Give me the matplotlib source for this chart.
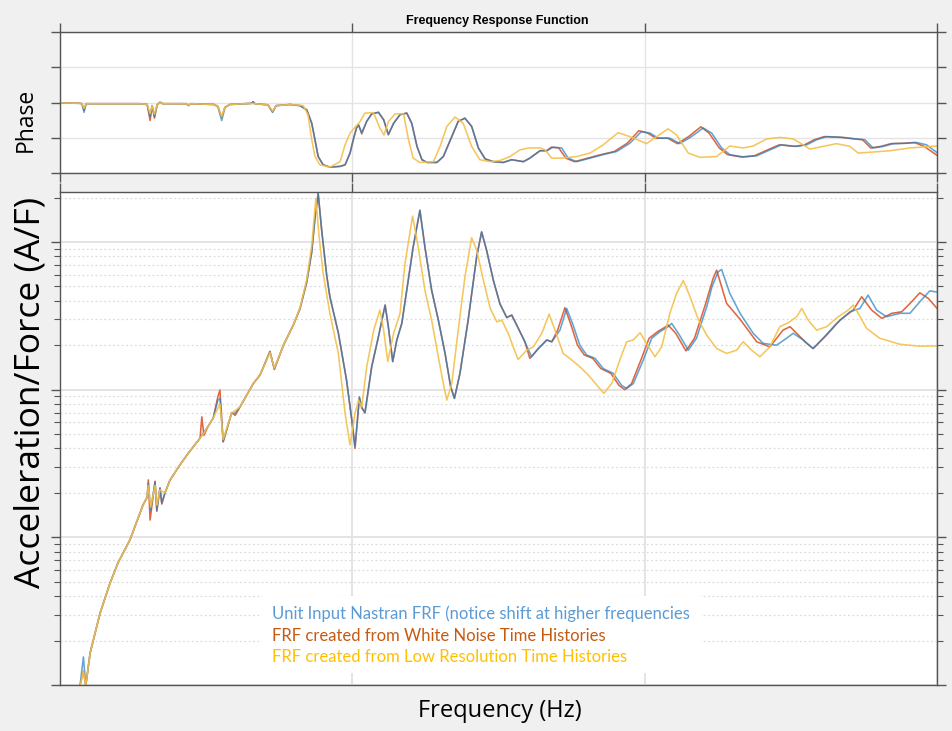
import matplotlib.pyplot as plt
from matplotlib.patches import Rectangle
from matplotlib.ticker import LogLocator, NullFormatter

plt.rcParams['font.family'] = ['Open Sans', 'DejaVu Sans']

# --- magnitude (A/F) ---
freq_mag_nastran = [68, 80, 88, 103, 114, 137, 171, 198, 239, 284, 298, 302, 310, 325, 331,
                    342, 348, 359, 376, 410, 439, 479, 490, 507, 524, 540, 547, 558, 587, 599,
                    616, 661, 684, 718, 733, 764, 798, 821, 844, 861, 872, 883, 895, 912,
                    923, 952, 980, 998, 1009, 1024, 1032, 1043, 1066, 1089, 1112, 1123, 1138, 1152, 1169,
                    1186, 1208, 1231, 1248, 1271, 1294, 1317, 1336, 1349, 1368, 1396, 1425, 1442, 1459, 1482,
                    1505, 1528, 1545, 1562, 1590, 1613, 1636, 1665, 1682, 1710, 1733, 1755, 1778, 1801, 1830,
                    1858, 1892, 1921, 1938, 1961, 1995, 2024, 2052, 2080, 2092, 2115, 2149, 2177, 2212, 2230,
                    2251, 2263, 2291, 2326, 2371, 2405, 2451, 2485, 2508, 2542, 2576, 2610, 2656, 2702, 2736,
                    2764, 2793, 2827, 2873, 2907, 2941, 2975, 3000]
mag_nastran = [0.0098, 0.0155, 0.0099, 0.0165, 0.0202, 0.0307, 0.049, 0.067, 0.096, 0.166, 0.187, 0.233, 0.153, 0.237, 0.153,
               0.216, 0.171, 0.20, 0.244, 0.309, 0.372, 0.47, 0.508, 0.567, 0.642, 0.85, 0.873, 0.444, 0.694, 0.694,
               0.766, 1.10, 1.256, 1.80, 1.39, 2.0, 2.74, 3.55, 5.38, 8.58, 14.5, 21.3, 12.0, 5.97,
               4.26, 2.42, 1.16, 0.622, 0.411, 0.895, 0.766, 0.694, 1.43, 2.28, 3.74, 2.67, 1.55, 2.17, 2.81,
               4.72, 9.28, 16.4, 9.28, 4.72, 2.96, 1.76, 1.05, 0.873, 1.29, 2.96, 7.94, 11.7, 8.81, 5.52,
               3.80, 3.08, 3.2, 2.74, 2.11, 1.67, 1.90, 2.17, 2.11, 2.53, 3.55, 2.74, 2.0, 1.72, 1.63,
               1.39, 1.29, 1.07, 1.02, 1.10, 1.59, 2.23, 2.47, 2.67, 2.81, 2.41, 1.85, 2.23, 3.64, 4.98,
               6.28, 6.52, 4.49, 3.29, 2.41, 2.06, 2.0, 2.23, 2.41, 2.17, 1.90, 2.23, 2.81, 3.37, 3.55,
               4.37, 3.46, 3.12, 3.29, 3.29, 3.94, 4.67, 4.58]

freq_mag_noise = [68, 80, 88, 103, 114, 137, 171, 198, 239, 284, 298, 302, 308, 325, 331,
                  342, 348, 359, 376, 410, 439, 479, 485, 492, 507, 524, 540, 547, 558, 587,
                  599, 616, 661, 684, 718, 733, 764, 798, 821, 844, 861, 872, 883, 895,
                  912, 923, 952, 980, 998, 1009, 1024, 1032, 1043, 1066, 1089, 1112, 1123, 1138, 1152,
                  1169, 1186, 1208, 1231, 1248, 1271, 1294, 1317, 1336, 1349, 1368, 1396, 1425, 1442, 1459,
                  1482, 1505, 1528, 1545, 1562, 1590, 1607, 1636, 1665, 1682, 1702, 1727, 1748, 1770, 1793,
                  1822, 1850, 1884, 1912, 1932, 1955, 1987, 2015, 2044, 2072, 2080, 2106, 2141, 2170, 2205,
                  2234, 2246, 2280, 2326, 2383, 2428, 2473, 2497, 2554, 2576, 2622, 2668, 2713, 2742, 2776,
                  2811, 2845, 2879, 2913, 2941, 2970, 3000]
mag_noise = [0.0098, 0.0125, 0.0099, 0.0165, 0.0202, 0.0307, 0.049, 0.067, 0.096, 0.166, 0.187, 0.245, 0.131, 0.24, 0.15,
             0.216, 0.168, 0.20, 0.244, 0.309, 0.372, 0.47, 0.655, 0.49, 0.567, 0.642, 0.90, 0.994, 0.444, 0.70,
             0.67, 0.766, 1.10, 1.256, 1.82, 1.37, 2.0, 2.74, 3.55, 5.38, 8.58, 14.5, 21.3, 12.0,
             5.97, 4.26, 2.42, 1.16, 0.622, 0.40, 0.88, 0.75, 0.70, 1.43, 2.28, 3.74, 2.67, 1.55, 2.17,
             2.81, 4.72, 9.28, 16.4, 9.28, 4.72, 2.96, 1.76, 1.05, 0.873, 1.29, 2.96, 7.94, 11.7, 8.81,
             5.52, 3.80, 3.08, 3.2, 2.74, 2.11, 1.63, 1.90, 2.17, 2.11, 2.53, 3.59, 2.74, 2.0, 1.72,
             1.63, 1.39, 1.29, 1.07, 1.0, 1.10, 1.59, 2.23, 2.47, 2.67, 2.74, 2.41, 1.83, 2.23, 3.64,
             5.67, 6.45, 3.84, 3.0, 2.11, 1.95, 2.53, 2.67, 2.06, 1.90, 2.34, 2.96, 3.46, 4.26, 3.46,
             3.04, 3.29, 3.37, 3.94, 4.53, 4.15, 3.55]

freq_mag_lowres = [68, 80, 88, 103, 114, 137, 171, 198, 239, 284, 298, 302, 310, 325, 331,
                   342, 359, 376, 410, 439, 479, 490, 507, 524, 547, 558, 587, 616, 661, 684,
                   718, 733, 764, 798, 821, 844, 861, 875, 886, 900, 923, 952, 975, 992, 1009, 1021,
                   1032, 1049, 1073, 1094, 1107, 1121, 1141, 1163, 1180, 1206, 1225, 1248, 1271, 1294, 1311,
                   1323, 1340, 1362, 1385, 1408, 1425, 1448, 1471, 1494, 1511, 1533, 1550, 1567, 1596, 1619,
                   1648, 1673, 1693, 1721, 1750, 1778, 1807, 1837, 1860, 1887, 1915, 1938, 1961, 1984, 2006,
                   2035, 2058, 2086, 2109, 2132, 2155, 2184, 2212, 2246, 2280, 2314, 2337, 2366, 2394, 2428,
                   2462, 2491, 2520, 2537, 2559, 2588, 2622, 2662, 2696, 2713, 2730, 2759, 2804, 2873, 2941,
                   3000]
mag_lowres = [0.0098, 0.0125, 0.0099, 0.0165, 0.0202, 0.0307, 0.049, 0.067, 0.096, 0.166, 0.187, 0.225, 0.16, 0.225, 0.165,
              0.21, 0.20, 0.244, 0.309, 0.372, 0.47, 0.50, 0.567, 0.642, 0.80, 0.46, 0.694, 0.766, 1.10, 1.256,
              1.78, 1.40, 2.0, 2.74, 3.60, 5.6, 9.53, 19.7, 11.0, 6.13, 3.29, 1.76, 0.691, 0.422, 0.691, 0.85,
              0.766, 1.43, 2.53, 3.46, 2.53, 1.55, 2.41, 3.29, 7.17, 15.0, 9.28, 4.72, 2.96, 1.67, 1.10,
              0.85, 1.10, 2.53, 5.81, 10.7, 8.81, 5.52, 3.57, 2.88, 2.96, 2.41, 1.95, 1.60, 1.85, 1.95,
              2.41, 3.25, 2.53, 1.76, 1.59, 1.43, 1.256, 1.07, 0.944, 1.10, 1.59, 2.11, 2.17, 2.43, 2.06,
              1.67, 1.95, 3.29, 4.49, 5.48, 4.26, 2.96, 2.34, 1.90, 1.76, 1.85, 2.11, 1.85, 1.67, 1.95,
              2.67, 2.84, 3.12, 3.55, 2.96, 2.53, 2.67, 3.12, 3.46, 3.74, 3.29, 2.60, 2.23, 2.03, 1.97,
              1.98]

# --- phase (deg) ---
freq_ph_nastran = [5, 68, 75, 82, 89, 274, 298, 308, 315, 323, 332, 342, 352, 431, 439,
                   448, 527, 540, 553, 564, 581, 657, 660, 667, 711, 727, 739, 787, 821, 844,
                   861, 872, 883, 900, 923, 958, 975, 992, 1003, 1014, 1021, 1032, 1049, 1066, 1089,
                   1107, 1123, 1141, 1163, 1186, 1203, 1221, 1238, 1255, 1289, 1311, 1340, 1362, 1385, 1408,
                   1431, 1454, 1482, 1516, 1545, 1585, 1607, 1642, 1665, 1687, 1716, 1738, 1767, 1813, 1858,
                   1904, 1949, 1989, 2018, 2046, 2086, 2120, 2160, 2200, 2229, 2263, 2291, 2337, 2383, 2428,
                   2468, 2520, 2554, 2588, 2622, 2679, 2725, 2753, 2781, 2816, 2850, 2896, 2930, 2964, 3000]
ph_nastran = [-1, -2, -3, -25, -3, -3, -5, -36, -8, -36, -6, 0, -3, -3, -8,
              -3, -5, -11, -46, -13, -5, -2, 2, -3, -6, -25, -8, -5, -8, -19,
              -53, -95, -138, -159, -165, -163, -159, -129, -95, -65, -57, -77, -48, -29, -25,
              -44, -82, -53, -31, -27, -53, -112, -146, -153, -153, -138, -87, -48, -40, -61,
              -116, -144, -151, -153, -146, -151, -142, -123, -123, -114, -116, -142, -151, -142, -133,
              -125, -104, -74, -78, -91, -91, -105, -87, -65, -78, -116, -133, -139, -136, -121,
              -108, -112, -108, -95, -87, -89, -93, -95, -116, -112, -105, -104, -102, -108, -128]

freq_ph_noise = [5, 68, 75, 82, 89, 274, 298, 308, 315, 323, 332, 342, 352, 431, 439,
                 448, 527, 540, 553, 564, 581, 657, 660, 667, 711, 727, 739, 787, 821, 844,
                 861, 872, 883, 900, 923, 958, 975, 992, 1003, 1014, 1021, 1032, 1049, 1066, 1089,
                 1107, 1123, 1141, 1163, 1186, 1203, 1221, 1238, 1255, 1289, 1311, 1340, 1362, 1385, 1408,
                 1431, 1454, 1482, 1516, 1545, 1585, 1607, 1642, 1665, 1680, 1706, 1730, 1760, 1805, 1850,
                 1896, 1940, 1980, 2010, 2038, 2078, 2112, 2150, 2192, 2220, 2255, 2283, 2330, 2375, 2420,
                 2460, 2512, 2546, 2580, 2614, 2671, 2717, 2745, 2773, 2808, 2842, 2888, 2922, 2956, 3000]
ph_noise = [-1, -2, -3, -20, -3, -3, -5, -46, -8, -40, -6, 1, -3, -3, -7,
            -3, -5, -10, -38, -12, -5, -2, 2, -3, -6, -24, -8, -5, -8, -19,
            -53, -95, -138, -159, -165, -163, -159, -129, -95, -65, -57, -80, -48, -29, -25,
            -44, -82, -53, -31, -27, -53, -112, -146, -153, -153, -138, -87, -48, -40, -61,
            -116, -144, -151, -153, -146, -151, -142, -123, -123, -114, -116, -142, -151, -142, -133,
            -125, -104, -72, -78, -91, -91, -105, -87, -62, -78, -116, -133, -139, -136, -121,
            -108, -112, -108, -95, -87, -89, -93, -95, -116, -112, -105, -104, -102, -112, -135]

freq_ph_lowres = [5, 68, 75, 82, 89, 274, 298, 308, 315, 323, 332, 342, 352, 431, 439,
                  448, 527, 540, 553, 564, 581, 657, 667, 711, 727, 739, 787, 821, 832, 848,
                  861, 872, 889, 923, 958, 975, 992, 1009, 1026, 1043, 1072, 1094, 1108, 1123, 1146,
                  1175, 1192, 1208, 1231, 1277, 1300, 1323, 1351, 1379, 1408, 1436, 1471, 1505, 1539, 1573,
                  1602, 1642, 1659, 1682, 1716, 1767, 1813, 1858, 1909, 1949, 2006, 2041, 2080, 2109, 2149,
                  2189, 2246, 2291, 2337, 2371, 2417, 2462, 2508, 2542, 2565, 2610, 2656, 2702, 2730, 2770,
                  2839, 2907, 3000]
ph_lowres = [-1, -2, -3, -15, -3, -3, -5, -28, -8, -30, -6, 0, -3, -3, -7,
             -3, -5, -10, -36, -12, -5, -2, -3, -6, -22, -8, -5, -7, -8, -31,
             -95, -138, -159, -165, -151, -108, -78, -63, -49, -27, -26, -65, -83, -49, -29,
             -29, -95, -142, -153, -151, -112, -61, -37, -53, -112, -146, -151, -148, -138, -121,
             -116, -116, -121, -142, -142, -138, -129, -108, -77, -87, -105, -87, -67, -83, -129,
             -140, -138, -111, -116, -111, -93, -89, -93, -108, -119, -112, -105, -112, -129, -127,
             -123, -116, -111]

labels = ['Unit Input Nastran FRF (notice shift at higher frequencies',
          'FRF created from White Noise Time Histories',
          'FRF created from Low Resolution Time Histories']
text_colors = ['#5b9bd5', '#c55a11', '#ffc000']
c_nastran = '#1f7fc4'
c_noise = '#e0673f'
c_lowres = '#f4c04a'

frame = '#555555'
grid_c = '#e4e4e4'

fig = plt.figure(figsize=(9.53, 7.31), dpi=100, facecolor='#f0f0f0')
ax_ph = fig.add_axes([0.063, 0.7633, 0.9203, 0.1929])
ax_mag = fig.add_axes([0.063, 0.0629, 0.9203, 0.6744])

line_kw = dict(lw=1.15, solid_joinstyle='round')

# phase panel
ax_ph.plot(freq_ph_noise, ph_noise, color=c_noise, **line_kw)
ax_ph.plot(freq_ph_nastran, ph_nastran, color=c_nastran, alpha=0.7, **line_kw)
ax_ph.plot(freq_ph_lowres, ph_lowres, color=c_lowres, alpha=0.9, **line_kw)
ax_ph.set_xlim(0, 3000)
ax_ph.set_ylim(-180, 180)
ax_ph.set_xticks([0, 1000, 2000, 3000])
ax_ph.set_yticks([-180, -90, 0, 90, 180])
ax_ph.tick_params(direction='out', length=6.8, width=1, color=frame,
                  top=True, right=True, labelleft=False, labelbottom=False)
ax_ph.set_axisbelow(True)
ax_ph.grid(True, color=grid_c, lw=1)

# magnitude panel
ax_mag.plot(freq_mag_noise, mag_noise, color=c_noise, **line_kw)
ax_mag.plot(freq_mag_nastran, mag_nastran, color=c_nastran, alpha=0.7, **line_kw)
ax_mag.plot(freq_mag_lowres, mag_lowres, color=c_lowres, alpha=0.9, **line_kw)
ax_mag.set_yscale('log')
ax_mag.set_xlim(0, 3000)
ax_mag.set_ylim(0.01, 21.8)
ax_mag.set_xticks([0, 1000, 2000, 3000])
ax_mag.yaxis.set_major_locator(LogLocator(base=10, numticks=10))
ax_mag.yaxis.set_minor_locator(LogLocator(base=10, subs=range(2, 10), numticks=20))
ax_mag.yaxis.set_minor_formatter(NullFormatter())
ax_mag.tick_params(axis='x', direction='out', length=6.8, width=1, color=frame,
                   top=True, bottom=False, labelbottom=False)
ax_mag.tick_params(axis='y', which='major', direction='out', length=6.5, width=1,
                   color=frame, right=True, labelleft=False)
ax_mag.tick_params(axis='y', which='minor', direction='out', length=4.3, width=0.8,
                   color=frame, right=True)
ax_mag.set_axisbelow(True)
ax_mag.grid(True, which='major', color=grid_c, lw=1.4)
ax_mag.grid(True, which='minor', axis='y', color='#dcdcdc', lw=0.9, ls=(0, (1.5, 2)))

for ax in (ax_ph, ax_mag):
    for sp in ax.spines.values():
        sp.set_color(frame)
        sp.set_linewidth(1.0)

# text block of series names
ax_mag.add_patch(Rectangle((0.2303, 0.0243), 0.50, 0.1562, transform=ax_mag.transAxes,
                           facecolor='white', edgecolor='none', zorder=1.5))
for i, (lab, col) in enumerate(zip(labels, text_colors)):
    ax_mag.text(0.2417, 0.144 - i * 0.0436, lab, transform=ax_mag.transAxes, color=col,
                fontsize=12, family=['Lato', 'DejaVu Sans'], ha='left', va='center', zorder=3)

fig.text(0.5215, 0.9713, 'Frequency Response Function', ha='center', va='center',
         fontsize=9, fontweight='bold', family=['Liberation Sans', 'DejaVu Sans'])
fig.text(0.0273, 0.8358, 'Phase', rotation=90, ha='center', va='center', fontsize=16.5)
fig.text(0.0325, 0.4637, 'Acceleration/Force (A/F)', rotation=90, ha='center', va='center',
         fontsize=25.5)
fig.text(0.5247, 0.0274, 'Frequency (Hz)', ha='center', va='center', fontsize=17)

fig.savefig('out.png', dpi=100, facecolor=fig.get_facecolor())
